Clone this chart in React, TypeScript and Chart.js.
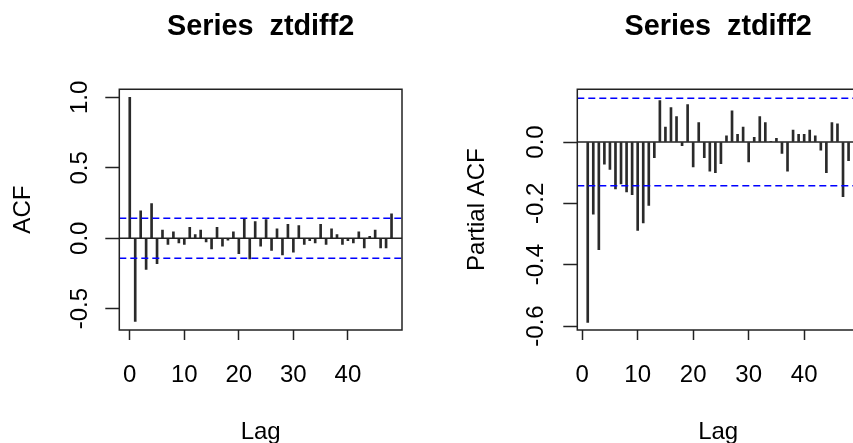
import React, { useEffect, useRef } from "react";
import { Chart, registerables } from "chart.js";

Chart.register(...registerables);

const FONT = "'Liberation Sans', Arial, sans-serif";

const titleText = "Series  ztdiff2";
const xTitle = "Lag";
const acfTitle = "ACF";
const pacfTitle = "Partial ACF";

const acfLags = [0, 1, 2, 3, 4, 5, 6, 7, 8, 9, 10, 11, 12, 13, 14, 15, 16, 17, 18, 19, 20, 21, 22, 23, 24, 25, 26, 27, 28, 29, 30, 31, 32, 33, 34, 35, 36, 37, 38, 39, 40, 41, 42, 43, 44, 45, 46, 47, 48];
const acfValues = [1.0, -0.591, 0.194, -0.222, 0.246, -0.18, 0.057, -0.045, 0.045, -0.033, -0.045, 0.078, 0.026, 0.057, -0.026, -0.076, 0.078, -0.057, -0.014, 0.045, -0.109, 0.137, -0.147, 0.118, -0.057, 0.132, -0.087, 0.066, -0.118, 0.099, -0.099, 0.09, -0.045, -0.017, -0.033, 0.099, -0.045, 0.066, 0.026, -0.045, -0.017, -0.033, 0.045, -0.069, 0.014, 0.057, -0.069, -0.069, 0.173];

const pacfLags = [1, 2, 3, 4, 5, 6, 7, 8, 9, 10, 11, 12, 13, 14, 15, 16, 17, 18, 19, 20, 21, 22, 23, 24, 25, 26, 27, 28, 29, 30, 31, 32, 33, 34, 35, 36, 37, 38, 39, 40, 41, 42, 43, 44, 45, 46, 47, 48];
const pacfValues = [-0.588, -0.235, -0.351, -0.072, -0.089, -0.153, -0.137, -0.163, -0.172, -0.288, -0.264, -0.207, -0.051, 0.135, 0.049, 0.112, 0.083, -0.012, 0.122, -0.081, 0.063, -0.051, -0.095, -0.1, -0.071, 0.02, 0.102, 0.025, 0.049, -0.065, 0.015, 0.083, 0.063, 0.002, 0.012, -0.037, -0.095, 0.039, 0.025, 0.025, 0.039, 0.02, -0.027, -0.1, 0.063, 0.059, -0.178, -0.061];

const acfCI = 0.142;
const pacfCI = 0.143;

const lagTicks = [0, 10, 20, 30, 40];
const acfYTicks = [-0.5, 0.0, 0.5, 1.0];
const pacfYTicks = [-0.6, -0.4, -0.2, 0.0];

type PanelProps = {
  lags: number[];
  values: number[];
  ci: number;
  xMin: number;
  xMax: number;
  yMin: number;
  yMax: number;
  yTicks: number[];
  yTitle: string;
  width: number;
  left: number;
  yAxisWidth: number;
  padRight: number;
  yTitlePad: number;
  yTickPad: number;
};

const boxPlugin = {
  id: "rbox",
  afterDatasetsDraw(chart: any) {
    const { ctx, chartArea: a } = chart;
    ctx.save();
    ctx.strokeStyle = "#222";
    ctx.lineWidth = 1.5;
    ctx.strokeRect(a.left, a.top, a.right - a.left, a.bottom - a.top);
    ctx.restore();
  },
};

function Panel(p: PanelProps) {
  const ref = useRef<HTMLCanvasElement | null>(null);
  useEffect(() => {
    if (!ref.current) return;
    const lineBase = { type: "line" as const, pointRadius: 0, fill: false, tension: 0 };
    const chart = new Chart(ref.current, {
      type: "bar",
      data: {
        datasets: [
          { ...lineBase, data: [{ x: p.xMin, y: p.ci }, { x: p.xMax, y: p.ci }], borderColor: "#0000ff", borderWidth: 1.5, borderDash: [7, 4] } as any,
          { ...lineBase, data: [{ x: p.xMin, y: -p.ci }, { x: p.xMax, y: -p.ci }], borderColor: "#0000ff", borderWidth: 1.5, borderDash: [7, 4] } as any,
          { ...lineBase, data: [{ x: p.xMin, y: 0 }, { x: p.xMax, y: 0 }], borderColor: "#222", borderWidth: 1.5 } as any,
          {
            type: "bar",
            data: p.lags.map((l, i) => ({ x: l, y: p.values[i] })),
            backgroundColor: "#2a2a2a",
            borderWidth: 0,
            barThickness: 2,
          } as any,
        ],
      },
      options: {
        animation: false,
        responsive: false,
        maintainAspectRatio: false,
        events: [],
        layout: { padding: { left: 0, right: p.padRight, top: 0, bottom: 0 } },
        plugins: {
          legend: { display: false },
          tooltip: { enabled: false },
          title: {
            display: true,
            text: titleText,
            fullSize: false,
            color: "#000",
            font: { family: FONT, size: 28.8, weight: "bold", lineHeight: 1.2 },
            padding: { top: 9.5, bottom: 45.2 },
          },
        },
        scales: {
          x: {
            type: "linear",
            min: p.xMin,
            max: p.xMax,
            offset: false,
            afterBuildTicks: (s: any) => {
              s.ticks = lagTicks.map((v) => ({ value: v }));
            },
            afterFit: (s: any) => {
              s.height = 113;
            },
            grid: { drawOnChartArea: false, drawTicks: true, tickLength: 10, tickColor: "#222", tickWidth: 1.5, offset: false },
            border: { display: false },
            ticks: {
              color: "#000",
              font: { family: FONT, size: 24, lineHeight: 1.2 },
              padding: 21,
              autoSkip: false,
              minRotation: 0,
              maxRotation: 0,
              callback: (v: any) => String(v),
            },
            title: {
              display: true,
              text: xTitle,
              color: "#000",
              font: { family: FONT, size: 24, lineHeight: 0.85 },
              padding: { top: 0, bottom: 0 },
            },
          },
          y: {
            type: "linear",
            min: p.yMin,
            max: p.yMax,
            afterBuildTicks: (s: any) => {
              s.ticks = p.yTicks.map((v) => ({ value: v }));
            },
            afterFit: (s: any) => {
              s.width = p.yAxisWidth;
            },
            grid: { drawOnChartArea: false, drawTicks: true, tickLength: 14, tickColor: "#222", tickWidth: 1.5 },
            border: { display: false },
            ticks: {
              color: "#000",
              font: { family: FONT, size: 24, lineHeight: 1.2 },
              padding: p.yTickPad,
              autoSkip: false,
              minRotation: 90,
              maxRotation: 90,
              crossAlign: "center",
              callback: (v: any) => Number(v).toFixed(1),
            },
            title: {
              display: true,
              text: p.yTitle,
              color: "#000",
              font: { family: FONT, size: 24, lineHeight: 1 },
              padding: { top: p.yTitlePad, bottom: 0 },
            },
          },
        },
      } as any,
      plugins: [boxPlugin],
    });
    return () => chart.destroy();
  }, []);
  return (
    <canvas
      ref={ref}
      width={p.width}
      height={443}
      style={{ position: "absolute", left: p.left, top: 0, width: p.width, height: 443 }}
    />
  );
}

export default function App() {
  return (
    <div
      style={{
        position: "fixed",
        left: 0,
        top: 0,
        width: 853,
        height: 443,
        overflow: "hidden",
        background: "#fff",
      }}
    >
      <Panel
        lags={acfLags}
        values={acfValues}
        ci={acfCI}
        xMin={-1.92}
        xMax={49.92}
        yMin={-0.652}
        yMax={1.058}
        yTicks={acfYTicks}
        yTitle={acfTitle}
        width={430}
        left={0}
        yAxisWidth={119.3}
        padRight={28}
        yTitlePad={11.5}
        yTickPad={4.5}
      />
      <Panel
        lags={pacfLags}
        values={pacfValues}
        ci={pacfCI}
        xMin={-0.88}
        xMax={49.88}
        yMin={-0.613}
        yMax={0.172}
        yTicks={pacfYTicks}
        yTitle={pacfTitle}
        width={460}
        left={430}
        yAxisWidth={147.3}
        padRight={31}
        yTitlePad={35}
        yTickPad={6}
      />
    </div>
  );
}
